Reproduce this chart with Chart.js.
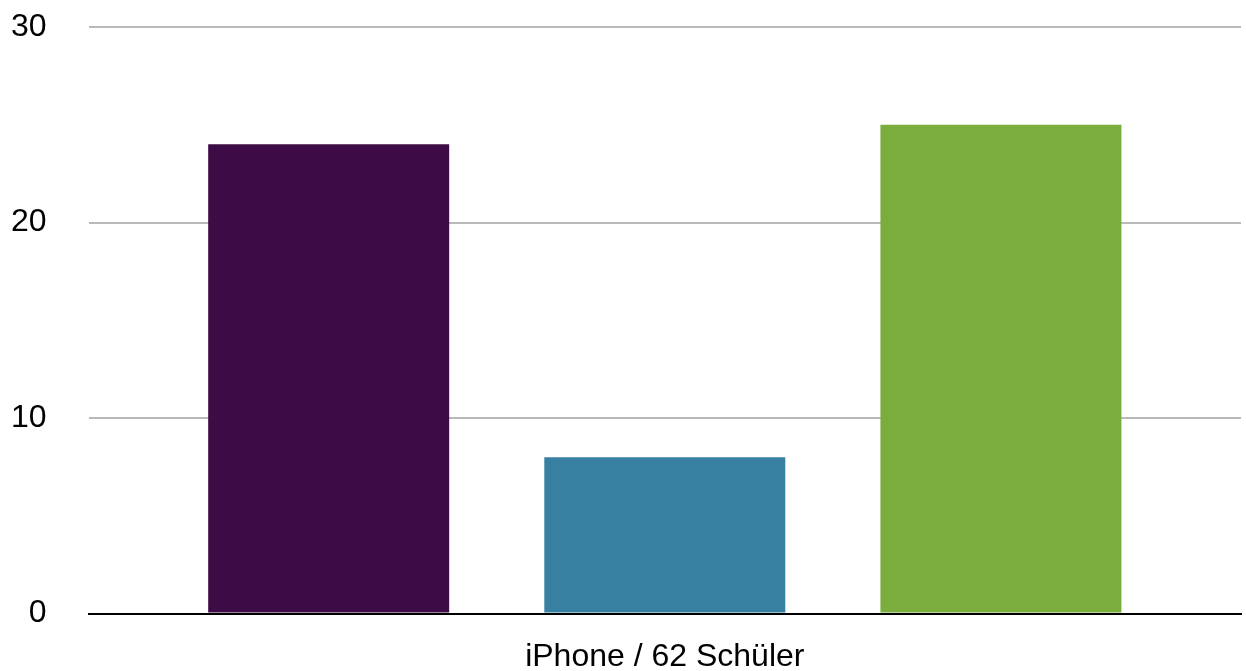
<!DOCTYPE html>
<html>
<head>
<meta charset="utf-8">
<script src="https://cdn.jsdelivr.net/npm/chart.js@4"></script>
<style>
  html, body { margin: 0; padding: 0; background: #fff; }
  #wrap { width: 1246px; height: 671px; }
</style>
</head>
<body>
<div id="wrap"><canvas id="grafica" width="1246" height="671"></canvas></div>
<script>
// Daten
const kategorien = ["iPhone / 62 Schüler"];
const reihe1 = [24];
const reihe2 = [8];
const reihe3 = [25];
const yTicks = [0, 10, 20, 30];

const farben = ["#3d0c46", "#3780a2", "#7aad3c"];

document.addEventListener("DOMContentLoaded", function () {
    const ctx = document.getElementById("grafica").getContext("2d");
    const schrift = { family: "'Liberation Sans', Arial, Helvetica, sans-serif", size: 32 };

    new Chart(ctx, {
        type: "bar",
        data: {
            labels: kategorien,
            datasets: [
                { label: "Reihe 1", data: reihe1, backgroundColor: farben[0] },
                { label: "Reihe 2", data: reihe2, backgroundColor: farben[1] },
                { label: "Reihe 3", data: reihe3, backgroundColor: farben[2] }
            ]
        },
        options: {
            responsive: false,
            animation: false,
            categoryPercentage: 0.875,
            barPercentage: 0.717,
            layout: { padding: { left: -31, right: 5, top: 27, bottom: -29 } },
            plugins: {
                legend: { display: false },
                tooltip: { enabled: false }
            },
            scales: {
                x: {
                    z: 1,
                    grid: { display: false, drawTicks: false },
                    border: { display: true, color: "#000", width: 2 },
                    ticks: { color: "#000", font: schrift, padding: 24 }
                },
                y: {
                    min: 0,
                    max: 30,
                    afterBuildTicks: function (axis) {
                        axis.ticks = yTicks.map(v => ({ value: v }));
                    },
                    afterFit: function (axis) {
                        axis.paddingTop = 0;
                        axis.paddingBottom = 0;
                    },
                    grid: { color: "#b9b9b9", lineWidth: 2, drawTicks: false },
                    border: { display: false },
                    ticks: { color: "#000", font: schrift, padding: 42 }
                }
            }
        }
    });
});
</script>
</body>
</html>
